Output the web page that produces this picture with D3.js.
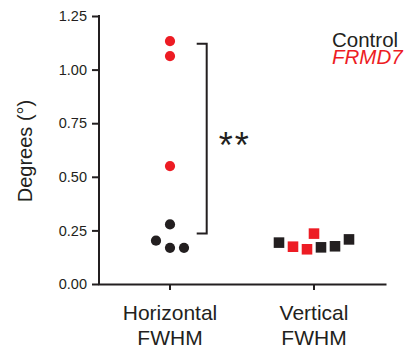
<!DOCTYPE html>
<html>
<head>
<meta charset="utf-8">
<script src="https://cdn.jsdelivr.net/npm/d3@7"></script>
<style>
  body { margin: 0; background: #fff; }
  svg { display: block; }
</style>
</head>
<body>
<svg id="chart" width="417" height="352"></svg>
<script>
// values
const categories = ['Horizontal', 'Vertical'];
const categoryLines = [['Horizontal', 'FWHM'], ['Vertical', 'FWHM']];
const groups = ['Control', 'FRMD7'];
const yTicks = [0, 0.25, 0.5, 0.75, 1.0, 1.25];

const horizontalControl = [0.278, 0.202, 0.169, 0.169];
const horizontalControlSlot = [0, -1, 0, 1];
const horizontalFRMD7 = [1.133, 1.063, 0.550];
const horizontalFRMD7Slot = [0, 0, 0];

const verticalControl = [0.193, 0.171, 0.176, 0.208];
const verticalControlSlot = [-2.5, 0.5, 1.5, 2.5];
const verticalFRMD7 = [0.174, 0.162, 0.235];
const verticalFRMD7Slot = [-1.5, -0.5, 0];

const bracketRange = [0.236, 1.12];

const colors = { Control: '#231f20', FRMD7: '#ed1c24' };
const ink = '#231f20';
const font = 'Liberation Sans, Arial, Helvetica, sans-serif';

const points = [];
const addPoints = (cat, group, vals, slots) => {
  vals.forEach((v, i) => points.push({ cat: cat, group: group, value: v, slot: slots[i] }));
};
addPoints('Horizontal', 'Control', horizontalControl, horizontalControlSlot);
addPoints('Horizontal', 'FRMD7', horizontalFRMD7, horizontalFRMD7Slot);
addPoints('Vertical', 'Control', verticalControl, verticalControlSlot);
addPoints('Vertical', 'FRMD7', verticalFRMD7, verticalFRMD7Slot);

const svg = d3.select('#chart');

const x = d3.scaleBand().domain(categories).range([98, 386]);
const y = d3.scaleLinear().domain([0, 1.25]).range([284, 16]);
const slotWidth = 14;
const cx = (d) => x(d.cat) + x.bandwidth() / 2 + d.slot * slotWidth;

// y axis
const yAxis = svg.append('g')
    .attr('transform', 'translate(99,0)')
    .call(d3.axisLeft(y).tickValues(yTicks).tickFormat(d3.format('.2f')).tickSize(7).tickSizeOuter(0).tickPadding(5));
yAxis.select('.domain').attr('stroke', ink).attr('stroke-width', 2).attr('d', `M0,${y(1.25) - 1}V${y(0) + 1}`);
yAxis.selectAll('.tick line').attr('stroke', ink).attr('stroke-width', 2);
yAxis.selectAll('.tick text')
    .style('font-family', font)
    .style('font-size', '14.5px')
    .attr('fill', ink);

// x axis
const xAxis = svg.append('g')
    .attr('transform', 'translate(0,284)')
    .call(d3.axisBottom(x).tickSize(6).tickSizeOuter(0).tickFormat(''));
xAxis.select('.domain').attr('stroke', ink).attr('stroke-width', 2);
xAxis.selectAll('.tick line').attr('stroke', ink).attr('stroke-width', 2);
xAxis.selectAll('.tick text').remove();

svg.append('g').selectAll('text.cat')
    .data(categories)
    .enter()
    .append('text')
    .attr('class', 'cat')
    .attr('x', (d) => x(d) + x.bandwidth() / 2)
    .attr('y', 320)
    .attr('text-anchor', 'middle')
    .style('font-family', font)
    .style('font-size', '21px')
    .attr('fill', ink)
    .each(function(d, i) {
      d3.select(this).selectAll('tspan')
          .data(categoryLines[i])
          .enter()
          .append('tspan')
          .attr('x', x(d) + x.bandwidth() / 2)
          .attr('dy', (t, j) => j === 0 ? 0 : 25)
          .text((t) => t);
    });

// y title
svg.append('text')
    .attr('transform', 'translate(32,151) rotate(-90)')
    .attr('text-anchor', 'middle')
    .style('font-family', font)
    .style('font-size', '20px')
    .attr('fill', ink)
    .text('Degrees (°)');

// points
const circle = d3.symbol().type(d3.symbolCircle).size(82);
const square = d3.symbol().type(d3.symbolSquare).size(112);
svg.append('g').selectAll('path.pt')
    .data(points)
    .enter()
    .append('path')
    .attr('class', 'pt')
    .attr('d', (d) => d.cat === 'Horizontal' ? circle() : square())
    .attr('transform', (d) => `translate(${cx(d)},${y(d.value)})`)
    .attr('fill', (d) => colors[d.group]);

// significance bracket
const bx = x('Horizontal') + x.bandwidth() / 2 + 36.7;
svg.append('path')
    .attr('d', `M${bx - 10},${y(bracketRange[1])}H${bx}V${y(bracketRange[0])}H${bx - 10}`)
    .attr('fill', 'none')
    .attr('stroke', ink)
    .attr('stroke-width', 2);

svg.append('text')
    .attr('x', bx + 12)
    .attr('y', 158)
    .style('font-family', font)
    .style('font-size', '36px')
    .style('letter-spacing', '2px')
    .attr('fill', ink)
    .text('**');

// legend
svg.append('g').selectAll('text.leg')
    .data(groups)
    .enter()
    .append('text')
    .attr('class', 'leg')
    .attr('x', 332)
    .attr('y', (d, i) => 46.7 + i * 17.3)
    .style('font-family', font)
    .style('font-size', '20.5px')
    .style('font-style', (d) => d === 'FRMD7' ? 'italic' : 'normal')
    .attr('fill', (d) => colors[d])
    .text((d) => d);
</script>
</body>
</html>
